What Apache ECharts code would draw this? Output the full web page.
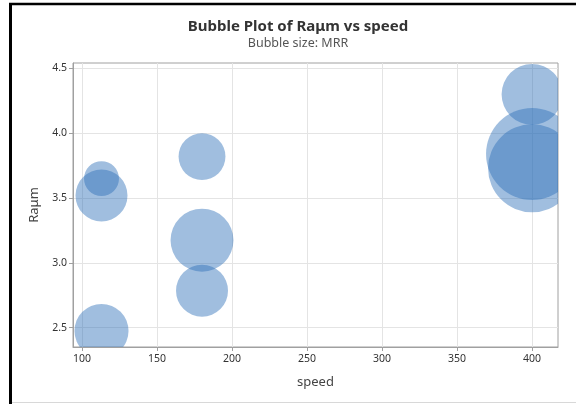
<!DOCTYPE html>
<html>
<head>
<meta charset="utf-8">
<script src="https://cdn.jsdelivr.net/npm/echarts@6/dist/echarts.min.js"></script>
<style>
html,body{margin:0;padding:0;background:#fff;}
#c{width:576px;height:404px;}
</style>
</head>
<body>
<div id="c"></div>
<script>
// Data
const speed = [113, 113, 113, 180, 180, 180, 400, 400, 400];
const raUm = [3.65, 3.52, 2.475, 3.82, 3.175, 2.785, 4.30, 3.84, 3.73];
const mrr = [34, 75, 81, 61, 110, 75, 103, 235, 215];
const xTicks = [100, 150, 200, 250, 300, 350, 400];
const yTicks = [2.5, 3.0, 3.5, 4.0, 4.5];

const maxMrr = Math.max(...mrr);
const data = speed.map((s, i) => [s, raUm[i], mrr[i]]);
const FONT = 'Noto Sans';

const chart = echarts.init(document.getElementById('c'), null, {renderer: 'canvas'});
chart.setOption({
  animation: false,
  backgroundColor: '#ffffff',
  title: {
    text: 'Bubble Plot of Raμm vs speed',
    subtext: 'Bubble size: MRR',
    left: 293, textAlign: 'center', top: 14,
    itemGap: 3,
    textStyle: {fontFamily: FONT, fontSize: 15, fontWeight: 'bold', color: '#333'},
    subtextStyle: {fontFamily: FONT, fontSize: 12.5, color: '#555'}
  },
  grid: {left: 73, right: 18, top: 63, bottom: 57, show: true, borderColor: '#a0a0a0', borderWidth: 1, containLabel: false},
  xAxis: {
    type: 'value', min: 94, max: 417.3,
    name: 'speed', nameLocation: 'middle', nameGap: 29,
    nameTextStyle: {fontFamily: FONT, fontSize: 13, color: '#444'},
    axisLine: {show: true, onZero: false, lineStyle: {color: '#a0a0a0'}},
    axisTick: {show: true, length: 4, customValues: xTicks, lineStyle: {color: '#a0a0a0'}},
    axisLabel: {customValues: xTicks, fontFamily: FONT, fontSize: 10.5, color: '#333', margin: 7},
    splitLine: {show: true, lineStyle: {color: '#e4e4e4'}}
  },
  yAxis: {
    type: 'value', min: 2.351, max: 4.542,
    name: 'Raμm', nameLocation: 'middle', nameGap: 26, nameRotate: 90,
    nameTextStyle: {fontFamily: FONT, fontSize: 13, color: '#444'},
    axisLine: {show: true, onZero: false, lineStyle: {color: '#a0a0a0'}},
    axisTick: {show: true, length: 4, customValues: yTicks, lineStyle: {color: '#a0a0a0'}},
    axisLabel: {customValues: yTicks, fontFamily: FONT, fontSize: 10.5, color: '#333', margin: 6,
      formatter: v => v.toFixed(1)},
    splitLine: {show: true, lineStyle: {color: '#e4e4e4'}}
  },
  series: [{
    type: 'custom',
    clip: true,
    data: data,
    encode: {x: 0, y: 1},
    renderItem: function (params, api) {
      const p = api.coord([api.value(0), api.value(1)]);
      const r = 46 * Math.sqrt(api.value(2) / maxMrr);
      return {
        type: 'circle',
        shape: {cx: p[0], cy: p[1], r: r},
        style: {fill: 'rgba(45,110,185,0.45)'}
      };
    }
  }],
  graphic: [
    {type: 'line', shape: {x1: 10.5, y1: 3, x2: 10.5, y2: 404}, style: {stroke: '#000', lineWidth: 3}, z: 100},
    {type: 'line', shape: {x1: 9, y1: 4, x2: 576, y2: 4}, style: {stroke: '#000', lineWidth: 2.5}, z: 100},
    {type: 'line', shape: {x1: 12, y1: 402.5, x2: 576, y2: 402.5}, style: {stroke: '#d8d8d8', lineWidth: 1}, z: 100}
  ]
});
</script>
</body>
</html>
